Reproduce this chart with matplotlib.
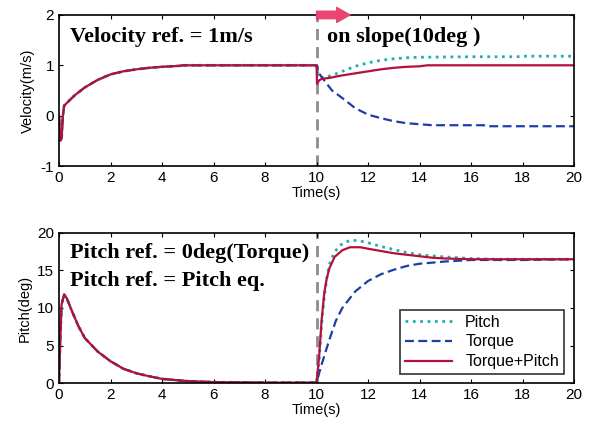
import numpy as np
import matplotlib
matplotlib.use("Agg")
import matplotlib.pyplot as plt

# velocity, shared part (0..10 s)
t_vel0 = [0, 0.05, 0.1, 0.15, 0.2, 0.4, 0.6, 0.8, 1.0, 1.5, 2.0, 2.5, 3.0, 3.5, 4.0, 4.7, 4.8, 10.0]
v_vel0 = [0, -0.5, -0.45, 0.0, 0.2, 0.3, 0.4, 0.48, 0.56, 0.71, 0.82, 0.88, 0.92, 0.95, 0.97, 0.99, 1.0, 1.0]

# velocity after slope (10..20 s)
t_vel_pitch = [10.05, 10.1, 10.3, 10.6, 11.0, 11.5, 12.0, 12.5, 13.0, 13.5, 14.0, 16.0, 17.8, 18.0, 20.0]
v_vel_pitch = [0.85, 0.75, 0.76, 0.8, 0.88, 0.98, 1.05, 1.1, 1.13, 1.15, 1.16, 1.17, 1.17, 1.18, 1.18]
t_vel_torque = [10.05, 10.15, 10.3, 10.6, 11.0, 11.5, 12.0, 12.5, 13.0, 13.5, 14.0, 14.5, 16.5, 16.6, 20.0]
v_vel_torque = [0.9, 0.8, 0.7, 0.5, 0.35, 0.15, 0.02, -0.05, -0.11, -0.15, -0.17, -0.19, -0.19, -0.21, -0.21]
t_vel_both = [10.02, 10.1, 10.2, 10.5, 11.0, 11.5, 12.0, 12.5, 13.0, 13.5, 14.0, 14.3, 20.0]
v_vel_both = [0.63, 0.7, 0.73, 0.75, 0.8, 0.84, 0.88, 0.92, 0.95, 0.97, 0.98, 1.0, 1.0]

# pitch, shared part (0..10 s)
t_pit0 = [0, 0.05, 0.1, 0.2, 0.3, 0.5, 0.75, 1.0, 1.5, 2.0, 2.5, 3.0, 3.5, 4.0, 5.0, 6.0, 8.0, 10.0]
p_pit0 = [0, 6, 10.5, 11.8, 11.3, 9.6, 7.6, 6.0, 4.2, 2.9, 1.9, 1.3, 0.9, 0.55, 0.25, 0.12, 0.05, 0.05]

# pitch after slope
t_pit_pitch = [10.1, 10.2, 10.3, 10.4, 10.5, 10.7, 11.0, 11.3, 11.6, 12.0, 12.5, 13.0, 13.5, 14.0, 15.0, 16.0, 17.0, 20.0]
p_pit_pitch = [3, 8, 11.5, 14, 15.8, 17.5, 18.6, 19.0, 19.0, 18.7, 18.2, 17.8, 17.4, 17.1, 16.8, 16.6, 16.5, 16.5]
t_pit_torque = [10.1, 10.2, 10.3, 10.5, 10.75, 11.0, 11.5, 12.0, 12.5, 13.0, 13.5, 14.0, 15.0, 16.0, 18.0, 20.0]
p_pit_torque = [1.3, 2.5, 3.6, 5.8, 8.3, 10.0, 12.2, 13.6, 14.5, 15.1, 15.6, 15.9, 16.2, 16.4, 16.4, 16.5]
t_pit_both = [10.1, 10.2, 10.3, 10.4, 10.5, 10.7, 11.0, 11.3, 11.7, 12.0, 12.5, 13.0, 13.5, 14.0, 14.5, 15.0, 16.0, 20.0]
p_pit_both = [3.5, 8.5, 12, 14, 15.3, 16.8, 17.7, 18.1, 18.1, 17.9, 17.6, 17.3, 17.1, 16.9, 16.7, 16.6, 16.5, 16.5]

c_pitch = "#1fb0ab"
c_torque = "#1b3fa6"
c_both = "#b5103c"
c_arrow = "#ea4470"

plt.rcParams.update({
    'font.family': 'Liberation Sans',
    'font.size': 11,
    'axes.unicode_minus': False,
    'xtick.direction': 'in',
    'ytick.direction': 'in',
    'xtick.top': True,
    'ytick.right': True,
    'xtick.major.size': 3,
    'ytick.major.size': 3,
    'axes.linewidth': 1.2,
})

fig = plt.figure(figsize=(5.92, 4.22), dpi=100)
ax1 = fig.add_axes([0.0997, 0.6066, 0.870, 0.358])
ax2 = fig.add_axes([0.0997, 0.0924, 0.870, 0.3555])

def series(t0, y0, t1, y1):
    return np.array(t0 + t1), np.array(y0 + y1)

# top: velocity
ax1.axvline(10, color='#8c8c8c', linestyle=(0, (4, 2.5)), linewidth=2, zorder=1)
ax1.plot(*series(t_vel0, v_vel0, t_vel_pitch, v_vel_pitch), color=c_pitch, linestyle=':', linewidth=2)
ax1.plot(*series(t_vel0, v_vel0, t_vel_torque, v_vel_torque), color=c_torque, linestyle=(0, (4, 2)), linewidth=1.6)
ax1.plot(*series(t_vel0, v_vel0, t_vel_both, v_vel_both), color=c_both, linewidth=1.6)
ax1.set_xlim(0, 20)
ax1.set_ylim(-1, 2)
ax1.set_xticks(range(0, 21, 2))
ax1.set_yticks([-1, 0, 1, 2])
ax1.set_ylabel("Velocity(m/s)", labelpad=4, fontsize=10.5)
ax1.set_xlabel("Time(s)", labelpad=1, fontsize=10.5)
ax1.text(0.43, 1.56, "Velocity ref. = 1m/s", family='Liberation Serif', weight='bold',
         fontsize=16, va='center')
ax1.text(10.4, 1.56, "on slope(10deg )", family='Liberation Serif', weight='bold',
         fontsize=16, va='center')
ax1.annotate("", xy=(11.3, 2), xytext=(10, 2),
             arrowprops=dict(arrowstyle='simple,head_length=0.8,head_width=0.9,tail_width=0.45',
                             color=c_arrow, mutation_scale=12, shrinkA=0, shrinkB=0),
             annotation_clip=False, zorder=5)

# bottom: pitch
ax2.axvline(10, color='#8c8c8c', linestyle=(0, (4, 2.5)), linewidth=2, zorder=1)
ax2.plot(*series(t_pit0, p_pit0, t_pit_pitch, p_pit_pitch), color=c_pitch, linestyle=':', linewidth=2, label='Pitch')
ax2.plot(*series(t_pit0, p_pit0, t_pit_torque, p_pit_torque), color=c_torque, linestyle=(0, (4, 2)), linewidth=1.6, label='Torque')
ax2.plot(*series(t_pit0, p_pit0, t_pit_both, p_pit_both), color=c_both, linewidth=1.6, label='Torque+Pitch')
ax2.set_xlim(0, 20)
ax2.set_ylim(0, 20)
ax2.set_xticks(range(0, 21, 2))
ax2.set_yticks([0, 5, 10, 15, 20])
ax2.set_ylabel("Pitch(deg)", labelpad=4, fontsize=10.5)
ax2.set_xlabel("Time(s)", labelpad=1, fontsize=10.5)
ax2.text(0.43, 17.3, "Pitch ref. = 0deg(Torque)", family='Liberation Serif', weight='bold',
         fontsize=16, va='center')
ax2.text(0.43, 13.6, "Pitch ref. = Pitch eq.", family='Liberation Serif', weight='bold',
         fontsize=16, va='center')
leg = ax2.legend(loc='lower right', bbox_to_anchor=(0.98, 0.06), borderaxespad=0,
                 fancybox=False, edgecolor='black', fontsize=11.5, handlelength=3.0,
                 borderpad=0.3, labelspacing=0.3)
leg.get_frame().set_linewidth(1.2)

fig.savefig("out.png", dpi=100)
